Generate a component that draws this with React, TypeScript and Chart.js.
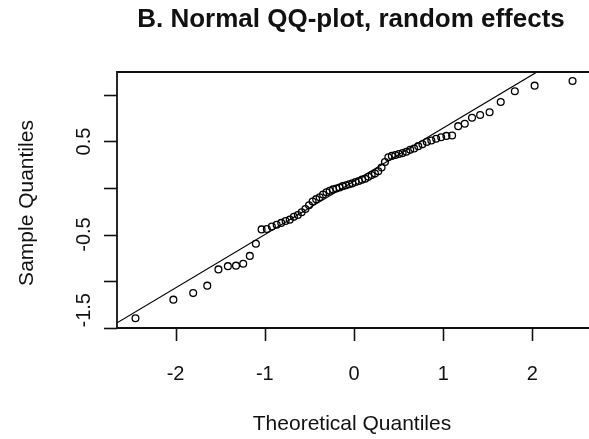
import React, { useEffect, useRef } from "react";
import { Chart, registerables } from "chart.js";

Chart.register(...registerables);

const titleText = "B. Normal QQ-plot, random effects";
const xAxisTitle = "Theoretical Quantiles";
const yAxisTitle = "Sample Quantiles";

const xTicks = [-2, -1, 0, 1, 2];
const xTickLabels = ["-2", "-1", "0", "1", "2"];
const yTicks = [-1.5, -1, -0.5, 0, 0.5, 1];
const yTickLabels = ["-1.5", "", "-0.5", "", "0.5", ""];

const xRange = [-2.657, 2.657];
const yRange = [-1.505, 1.247];

const theoreticalQuantiles = [
  -2.45, -2.025, -1.803, -1.645, -1.52, -1.414, -1.323, -1.242, -1.168, -1.1,
  -1.036, -0.977, -0.921, -0.867, -0.816, -0.767, -0.72, -0.674, -0.63, -0.587,
  -0.545, -0.504, -0.464, -0.424, -0.385, -0.347, -0.309, -0.272, -0.235, -0.198,
  -0.162, -0.126, -0.09, -0.054, -0.018, 0.018, 0.054, 0.09, 0.126, 0.162,
  0.198, 0.235, 0.272, 0.309, 0.347, 0.385, 0.424, 0.464, 0.504, 0.545,
  0.587, 0.63, 0.674, 0.72, 0.767, 0.816, 0.867, 0.921, 0.977, 1.036,
  1.1, 1.168, 1.242, 1.323, 1.414, 1.52, 1.645, 1.803, 2.025, 2.45,
];

const sampleQuantiles = [
  -1.4, -1.2, -1.13, -1.05, -0.875, -0.84, -0.835, -0.815, -0.73, -0.6,
  -0.445, -0.44, -0.415, -0.395, -0.375, -0.355, -0.34, -0.31, -0.29, -0.26,
  -0.225, -0.185, -0.145, -0.12, -0.1, -0.07, -0.045, -0.03, -0.015, -0.005,
  0.005, 0.02, 0.03, 0.04, 0.05, 0.065, 0.075, 0.09, 0.1, 0.12,
  0.14, 0.155, 0.18, 0.22, 0.28, 0.33, 0.345, 0.355, 0.365, 0.375,
  0.39, 0.41, 0.425, 0.45, 0.47, 0.495, 0.51, 0.53, 0.545, 0.56,
  0.565, 0.665, 0.69, 0.755, 0.785, 0.815, 0.925, 1.04, 1.1, 1.15,
];

const qqLineX = [-2.8, 2.8];
const qqLineY = [-1.532, 1.676];

const CANVAS_W = 600;
const CANVAS_H = 439;
const FONT = "'Liberation Sans', Arial, sans-serif";
const INK = "#111";

const rAxesPlugin = {
  id: "rAxes",
  afterDraw(chart: any) {
    const { ctx, chartArea, scales } = chart;
    const xs = scales.x;
    const ys = scales.y;
    const { left, right, top, bottom } = chartArea;
    ctx.save();
    ctx.strokeStyle = INK;
    ctx.fillStyle = INK;
    ctx.lineWidth = 1.8;
    // box
    ctx.beginPath();
    ctx.moveTo(right, top);
    ctx.lineTo(left, top);
    ctx.lineTo(left, bottom);
    ctx.lineTo(right, bottom);
    ctx.lineTo(right, top);
    ctx.stroke();
    // x ticks
    ctx.lineWidth = 1.6;
    xTicks.forEach((v) => {
      const px = Math.round(xs.getPixelForValue(v)) + 0.5;
      ctx.beginPath();
      ctx.moveTo(px, bottom);
      ctx.lineTo(px, bottom + 13);
      ctx.stroke();
    });
    // y ticks
    yTicks.forEach((v) => {
      const py = Math.round(ys.getPixelForValue(v)) + 0.5;
      ctx.beginPath();
      ctx.moveTo(left, py);
      ctx.lineTo(left - 13, py);
      ctx.stroke();
    });
    // x tick labels
    ctx.font = `20px ${FONT}`;
    ctx.textAlign = "center";
    ctx.textBaseline = "alphabetic";
    xTicks.forEach((v, i) => {
      ctx.fillText(xTickLabels[i], xs.getPixelForValue(v), 380);
    });
    // y tick labels (rotated)
    yTicks.forEach((v, i) => {
      const lab = yTickLabels[i];
      if (!lab) return;
      const py = ys.getPixelForValue(v);
      ctx.save();
      ctx.translate(90, py);
      ctx.rotate(-Math.PI / 2);
      ctx.textAlign = i === 0 ? "left" : "center";
      ctx.fillText(lab, 0, 0);
      ctx.restore();
    });
    // axis titles
    ctx.font = `21px ${FONT}`;
    ctx.textAlign = "center";
    ctx.fillText(xAxisTitle, 352, 430);
    ctx.save();
    ctx.translate(33, 203);
    ctx.rotate(-Math.PI / 2);
    ctx.fillText(yAxisTitle, 0, 0);
    ctx.restore();
    // main title
    ctx.font = `bold 26px ${FONT}`;
    ctx.fillText(titleText, 351, 27);
    ctx.restore();
  },
};

export default function App() {
  const canvasRef = useRef<HTMLCanvasElement | null>(null);

  useEffect(() => {
    const canvas = canvasRef.current;
    if (!canvas) return;
    const points = theoreticalQuantiles.map((x, i) => ({ x, y: sampleQuantiles[i] }));
    const line = qqLineX.map((x, i) => ({ x, y: qqLineY[i] }));
    const chart = new Chart(canvas, {
      type: "scatter",
      data: {
        datasets: [
          {
            data: points,
            pointStyle: "circle",
            pointRadius: 3.4,
            pointBorderWidth: 1.3,
            borderColor: "#000",
            backgroundColor: "rgba(0,0,0,0)",
            pointBackgroundColor: "rgba(0,0,0,0)",
            pointBorderColor: "#000",
          } as any,
          {
            data: line,
            showLine: true,
            pointRadius: 0,
            borderColor: "#000",
            borderWidth: 1.2,
            backgroundColor: "rgba(0,0,0,0)",
          } as any,
        ],
      },
      options: {
        responsive: false,
        devicePixelRatio: 1,
        animation: false,
        layout: {
          padding: { left: 117, top: 72, right: CANVAS_W - 591, bottom: CANVAS_H - 328 },
        },
        plugins: {
          legend: { display: false },
          tooltip: { enabled: false },
          title: { display: false },
        },
        scales: {
          x: { type: "linear", min: xRange[0], max: xRange[1], display: false },
          y: { type: "linear", min: yRange[0], max: yRange[1], display: false },
        },
      },
      plugins: [rAxesPlugin],
    });
    return () => chart.destroy();
  }, []);

  return (
    <div
      style={{
        position: "fixed",
        left: 0,
        top: 0,
        width: 589,
        height: 439,
        overflow: "hidden",
        background: "#fff",
      }}
    >
      <canvas
        ref={canvasRef}
        width={CANVAS_W}
        height={CANVAS_H}
        style={{ display: "block", width: CANVAS_W, height: CANVAS_H }}
      />
    </div>
  );
}
